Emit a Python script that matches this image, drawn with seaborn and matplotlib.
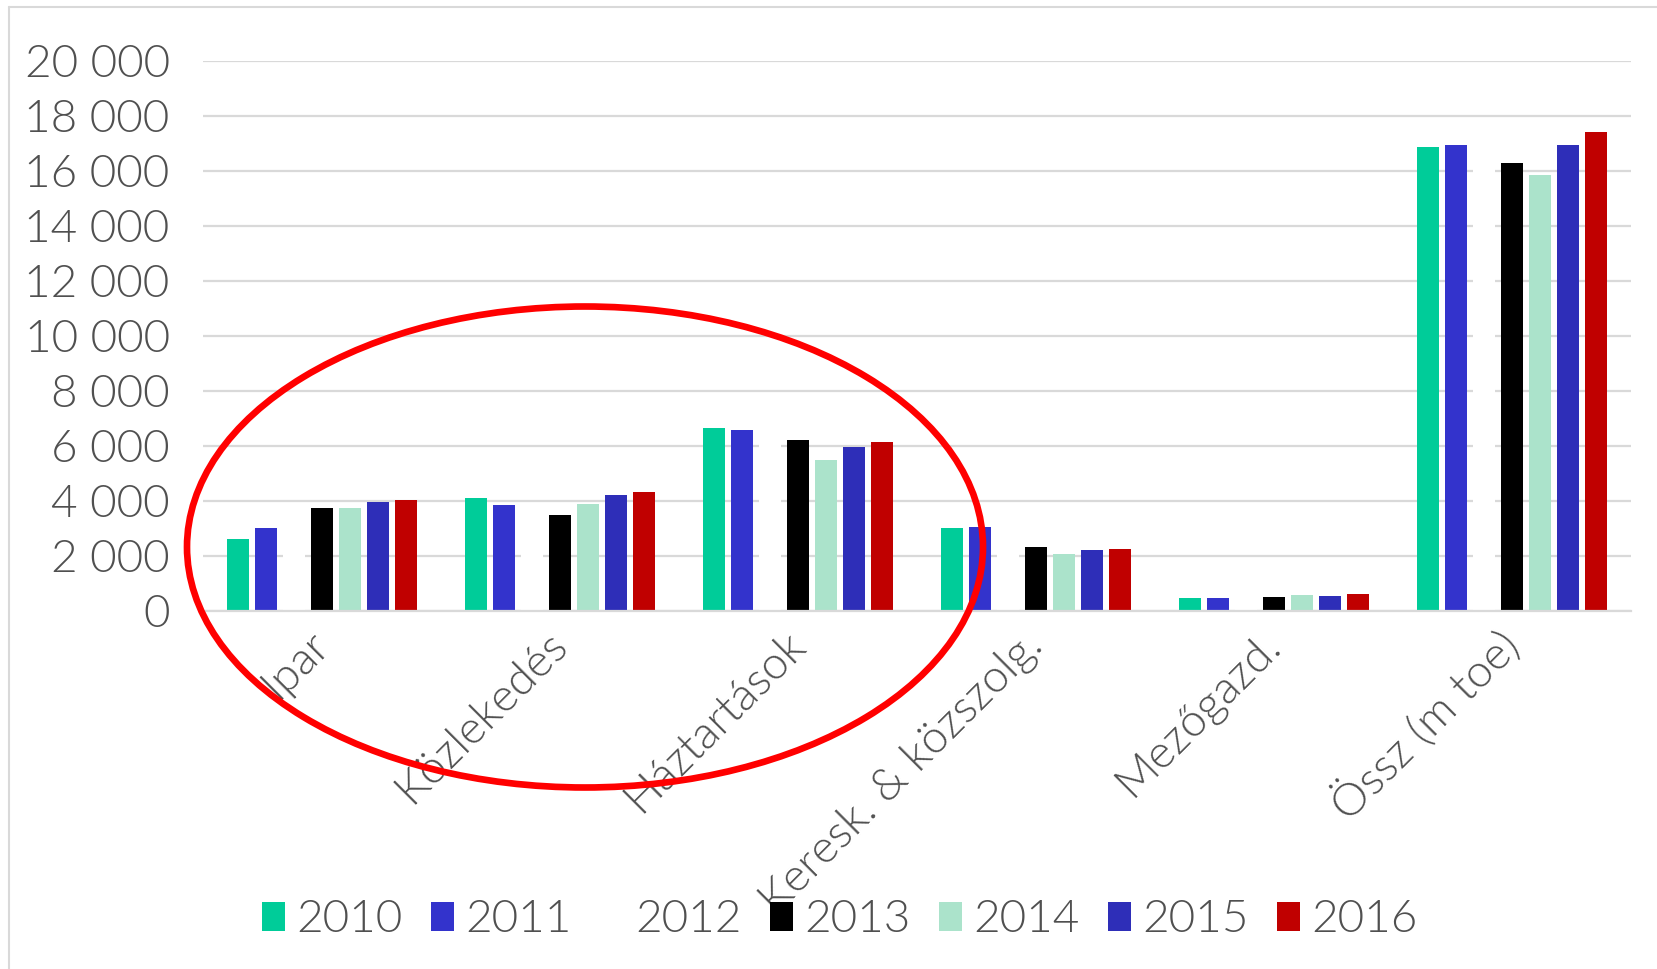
import matplotlib
matplotlib.use("Agg")
import matplotlib.pyplot as plt
import seaborn as sns
import pandas as pd
from matplotlib.patches import Ellipse
from matplotlib.lines import Line2D
from matplotlib.ticker import FuncFormatter, MultipleLocator

categories = ["Ipar", "Közlekedés", "Háztartások", "Keresk. & közszolg.", "Mezőgazd.", "Össz (m toe)"]
years = ["2010", "2011", "2012", "2013", "2014", "2015", "2016"]
v2010 = [2600, 4110, 6630, 3020, 480, 16880]
v2011 = [3000, 3830, 6560, 3030, 460, 16950]
v2012 = [3600, 3600, 6400, 2600, 500, 16600]
v2013 = [3720, 3470, 6200, 2300, 510, 16280]
v2014 = [3745, 3880, 5470, 2080, 570, 15840]
v2015 = [3940, 4200, 5960, 2200, 550, 16930]
v2016 = [4040, 4300, 6150, 2230, 615, 17420]
colors = ["#00CC99", "#3333CC", "#FFFFFF", "#000000", "#ABE3CB", "#2E2EB8", "#C00000"]

series = [v2010, v2011, v2012, v2013, v2014, v2015, v2016]
rows = []
for y, vals in zip(years, series):
    for c, v in zip(categories, vals):
        rows.append({"cat": c, "year": y, "value": v})
df = pd.DataFrame(rows)

sns.set_style("white")
plt.rcParams["font.family"] = ["Lato", "DejaVu Sans"]
W = 300
plt.rcParams["font.weight"] = W

TXT = "#505050"
FS = 33

fig = plt.figure(figsize=(16.57, 9.69), dpi=100)
ax = fig.add_axes([203/1657, 1-610.7/969, (1631-203)/1657, (610.7-60.7)/969])

sns.barplot(data=df, x="cat", y="value", hue="year", order=categories, hue_order=years,
            palette=colors, width=0.824, gap=0.2, saturation=1, ax=ax, legend=True,
            linewidth=0, edgecolor="none")

ax.set_ylim(0, 20000)
ax.set_xlim(-0.5, 5.5)
ax.yaxis.set_major_locator(MultipleLocator(2000))
ax.yaxis.set_major_formatter(FuncFormatter(lambda v, p: f"{int(v):,}".replace(",", " ")))
ax.set_axisbelow(True)
ax.grid(axis="y", color="#D9D9D9", linewidth=1.6)
ax.grid(axis="x", visible=False)
for s in ["top", "right", "left"]:
    ax.spines[s].set_visible(False)
ax.spines["bottom"].set_color("#D9D9D9")
ax.spines["bottom"].set_linewidth(1.6)
ax.set_xlabel("")
ax.set_ylabel("")
ax.tick_params(axis="both", length=0, colors=TXT, labelsize=FS)
ax.tick_params(axis="y", pad=24)
ax.tick_params(axis="x", pad=20)
for lab in ax.get_xticklabels():
    lab.set_rotation(45)
    lab.set_ha("right")
    lab.set_va("center")
    lab.set_rotation_mode("anchor")
    lab.set_fontweight(W)
for lab in ax.get_yticklabels():
    lab.set_fontweight(W)

handles, labels = ax.get_legend_handles_labels()
ax.get_legend().remove()
leg = fig.legend(handles, labels, ncol=7, loc="center", bbox_to_anchor=(0.507, 1-920/969),
                 frameon=False, fontsize=FS, handlelength=0.5, handleheight=0.6,
                 handletextpad=0.25, columnspacing=0.62, labelcolor=TXT)
for t in leg.get_texts():
    t.set_fontweight(W)

# red ellipse annotation (figure pixel coordinates)
ell = Ellipse((585/1657, 1-547/969), 796/1657, 481/969, transform=fig.transFigure,
              fill=False, edgecolor="#FF0000", linewidth=4.8, zorder=10)
fig.add_artist(ell)

# outer frame lines
fig.add_artist(Line2D([9/1657, 9/1657], [1-7/969, 0], transform=fig.transFigure, color="#D9D9D9", linewidth=1.5))
fig.add_artist(Line2D([9/1657, 1], [1-7/969, 1-7/969], transform=fig.transFigure, color="#D9D9D9", linewidth=1.5))

fig.savefig("out.png", dpi=100)
